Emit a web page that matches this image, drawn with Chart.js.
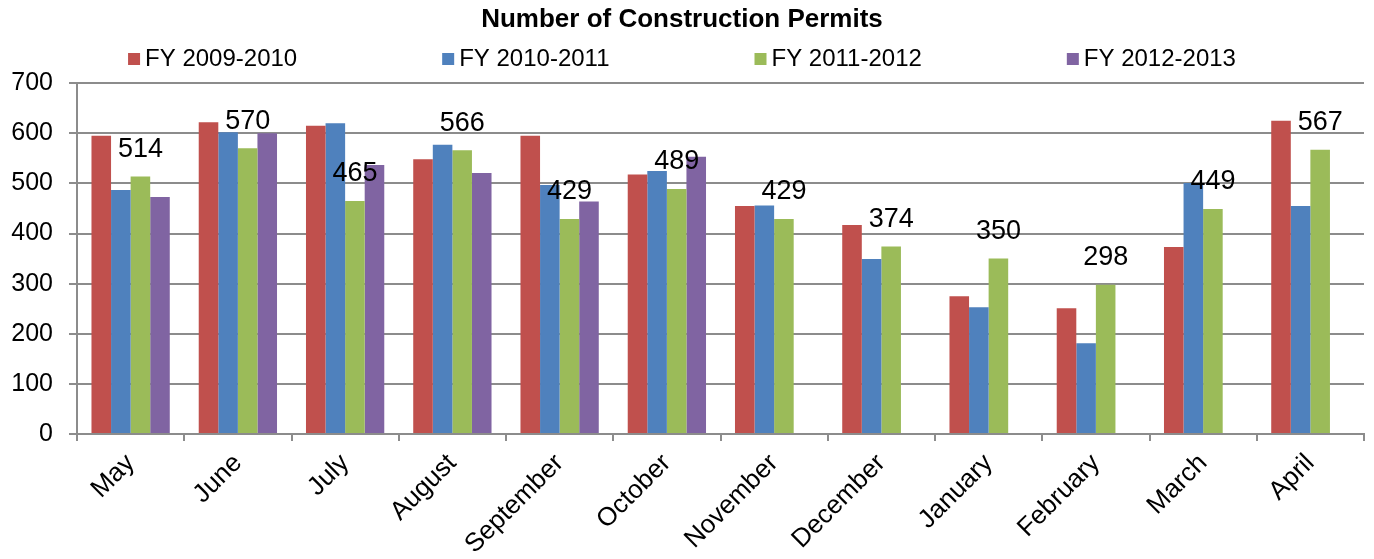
<!DOCTYPE html>
<html>
<head>
<meta charset="utf-8">
<script src="https://cdn.jsdelivr.net/npm/chart.js@4.4.0/dist/chart.umd.min.js"></script>
<style>
    html, body { margin: 0; padding: 0; background: #fff; }
    #wrap { width: 1374px; height: 559px; }
</style>
</head>
<body>
<div id="wrap"><canvas id="permits"></canvas></div>
<script>
// values
const months = ['May', 'June', 'July', 'August', 'September', 'October', 'November',
    'December', 'January', 'February', 'March', 'April'];
const fy0910 = [595, 622, 615, 548, 595, 518, 455, 417, 275, 251, 373, 625];
const fy1011 = [487, 602, 620, 577, 497, 525, 456, 349, 253, 181, 501, 455];
const fy1112 = [514, 570, 465, 566, 429, 489, 429, 374, 350, 298, 449, 567];
const fy1213 = [473, 600, 537, 521, 464, 553, null, null, null, null, null, null];
const yTicks = [0, 100, 200, 300, 400, 500, 600, 700];

const FONT = '"Liberation Sans", Arial, sans-serif';
const GRID = '#8c8c8c';

// legend drawn in one row with wide gaps, like the original
const legendRow = {
    id: 'legendRow',
    afterDraw(chart) {
        const ctx = chart.ctx;
        ctx.save();
        ctx.font = '24px ' + FONT;
        ctx.textBaseline = 'middle';
        const box = 12, gap = 5, space = 145, y = 59;
        const widths = chart.data.datasets.map(d => ctx.measureText(d.label).width);
        const total = widths.reduce((a, w) => a + box + gap + w, 0) + space * (widths.length - 1);
        let x = (chart.width - total) / 2 - 5;
        chart.data.datasets.forEach((d, i) => {
            ctx.fillStyle = d.backgroundColor;
            ctx.fillRect(x, y - 6, box, box);
            ctx.fillStyle = '#000';
            ctx.fillText(d.label, x + box + gap, y);
            x += box + gap + widths[i] + space;
        });
        ctx.restore();
    }
};

// value labels only above the FY 2011-2012 bars
const greenLabels = {
    id: 'greenLabels',
    afterDatasetsDraw(chart) {
        const ctx = chart.ctx;
        const meta = chart.getDatasetMeta(2);
        ctx.save();
        ctx.font = '27px ' + FONT;
        ctx.fillStyle = '#000';
        ctx.textAlign = 'center';
        ctx.textBaseline = 'middle';
        meta.data.forEach((bar, i) => {
            ctx.fillText(String(fy1112[i]), bar.x, bar.y - 27);
        });
        ctx.restore();
    }
};

const ctx = document.getElementById('permits');
const permitChart = new Chart(ctx, {
    type: 'bar',
    data: {
        labels: months,
        datasets: [
            { label: 'FY 2009-2010', data: fy0910, backgroundColor: '#C0504D' },
            { label: 'FY 2010-2011', data: fy1011, backgroundColor: '#4F81BD' },
            { label: 'FY 2011-2012', data: fy1112, backgroundColor: '#9BBB59' },
            { label: 'FY 2012-2013', data: fy1213, backgroundColor: '#8064A2' }
        ]
    },
    options: {
        responsive: true,
        maintainAspectRatio: false,
        animation: false,
        devicePixelRatio: 1,
        layout: { padding: { left: 0, right: 10, top: 0, bottom: 0 } },
        datasets: {
            bar: { categoryPercentage: 0.73, barPercentage: 1.0, borderWidth: 0 }
        },
        plugins: {
            legend: { display: false },
            tooltip: { enabled: false },
            title: {
                display: true,
                text: 'Number of Construction Permits',
                color: '#000',
                font: { family: FONT, size: 26, weight: 'bold' },
                padding: { top: 4, bottom: 48 }
            }
        },
        scales: {
            x: {
                offset: true,
                grid: {
                    offset: true,
                    drawOnChartArea: false,
                    drawTicks: true,
                    tickLength: 7,
                    color: GRID,
                    lineWidth: 2
                },
                border: { color: GRID, width: 2 },
                ticks: {
                    color: '#000',
                    font: { family: FONT, size: 26 },
                    minRotation: 45,
                    maxRotation: 45,
                    autoSkip: false,
                    padding: 7
                },
                afterFit(scale) { scale.height = 125; }
            },
            y: {
                min: 0,
                max: 700,
                afterBuildTicks(scale) { scale.ticks = yTicks.map(v => ({ value: v })); },
                grid: {
                    color: GRID,
                    lineWidth: 2,
                    tickLength: 8
                },
                border: { color: GRID, width: 2 },
                ticks: {
                    color: '#000',
                    font: { family: FONT, size: 25 },
                    padding: 16
                },
                afterFit(scale) { scale.width = 77; }
            }
        }
    },
    plugins: [legendRow, greenLabels]
});
</script>
</body>
</html>
